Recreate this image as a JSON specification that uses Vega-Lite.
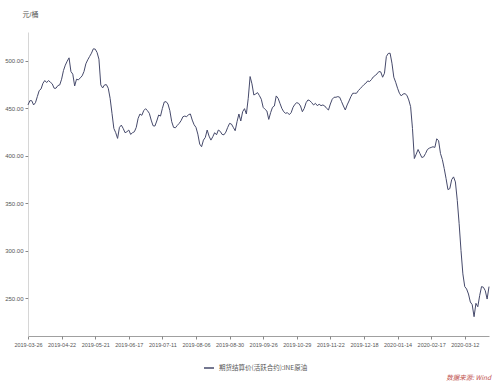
{
  "$schema": "https://vega.github.io/schema/vega-lite/v6.json",
  "width": 461,
  "height": 304,
  "autosize": "none",
  "padding": {"left": 28, "top": 32, "right": 11, "bottom": 50},
  "background": "white",
  "config": {
    "view": {"stroke": null},
    "font": "Liberation Sans, 'Noto Sans CJK SC', sans-serif"
  },
  "title": {
    "text": "数据来源: Wind",
    "orient": "bottom",
    "anchor": "end",
    "fontSize": 6.5,
    "fontStyle": "italic",
    "fontWeight": "normal",
    "color": "#c0504d",
    "offset": 3,
    "font": "'Noto Sans CJK SC', sans-serif"
  },
  "data": {
    "values": [
      {"date":"2019-03-26","price":453.2},{"date":"2019-03-27","price":457.7},{"date":"2019-03-28","price":457.7},{"date":"2019-03-29","price":453.2},
      {"date":"2019-04-01","price":455.6},{"date":"2019-04-02","price":462.0},{"date":"2019-04-03","price":468.3},{"date":"2019-04-04","price":470.1},
      {"date":"2019-04-08","price":476.0},{"date":"2019-04-09","price":478.9},{"date":"2019-04-10","price":476.8},{"date":"2019-04-11","price":478.9},
      {"date":"2019-04-12","price":477.1},{"date":"2019-04-15","price":475.4},{"date":"2019-04-16","price":470.8},{"date":"2019-04-17","price":470.8},
      {"date":"2019-04-18","price":473.6},{"date":"2019-04-19","price":474.3},{"date":"2019-04-22","price":480.3},{"date":"2019-04-23","price":489.4},
      {"date":"2019-04-24","price":495.1},{"date":"2019-04-25","price":499.3},{"date":"2019-04-26","price":502.8},{"date":"2019-04-29","price":488.4},
      {"date":"2019-04-30","price":485.6},{"date":"2019-05-06","price":473.2},{"date":"2019-05-07","price":480.3},{"date":"2019-05-08","price":479.6},
      {"date":"2019-05-09","price":481.7},{"date":"2019-05-10","price":483.8},{"date":"2019-05-13","price":488.4},{"date":"2019-05-14","price":496.5},
      {"date":"2019-05-15","price":500.7},{"date":"2019-05-16","price":504.2},{"date":"2019-05-17","price":507.7},{"date":"2019-05-20","price":512.3},
      {"date":"2019-05-21","price":512.0},{"date":"2019-05-22","price":508.5},{"date":"2019-05-23","price":501.4},{"date":"2019-05-24","price":474.3},
      {"date":"2019-05-27","price":471.1},{"date":"2019-05-28","price":474.3},{"date":"2019-05-29","price":474.6},{"date":"2019-05-30","price":470.8},
      {"date":"2019-05-31","price":460.2},{"date":"2019-06-03","price":444.4},{"date":"2019-06-04","price":428.5},{"date":"2019-06-05","price":424.0},
      {"date":"2019-06-06","price":418.0},{"date":"2019-06-10","price":429.6},{"date":"2019-06-11","price":432.0},{"date":"2019-06-12","price":428.5},
      {"date":"2019-06-13","price":424.0},{"date":"2019-06-14","price":425.0},{"date":"2019-06-17","price":426.8},{"date":"2019-06-18","price":422.2},
      {"date":"2019-06-19","price":424.0},{"date":"2019-06-20","price":425.0},{"date":"2019-06-21","price":429.6},{"date":"2019-06-24","price":439.1},
      {"date":"2019-06-25","price":443.7},{"date":"2019-06-26","price":442.3},{"date":"2019-06-27","price":447.2},{"date":"2019-06-28","price":449.3},
      {"date":"2019-07-01","price":447.2},{"date":"2019-07-02","price":444.4},{"date":"2019-07-03","price":437.3},{"date":"2019-07-04","price":431.3},
      {"date":"2019-07-05","price":431.0},{"date":"2019-07-08","price":436.3},{"date":"2019-07-09","price":442.6},{"date":"2019-07-10","price":441.5},
      {"date":"2019-07-11","price":449.6},{"date":"2019-07-12","price":456.3},{"date":"2019-07-15","price":456.7},{"date":"2019-07-16","price":454.2},
      {"date":"2019-07-17","price":447.2},{"date":"2019-07-18","price":435.6},{"date":"2019-07-19","price":429.6},{"date":"2019-07-22","price":429.2},
      {"date":"2019-07-23","price":431.7},{"date":"2019-07-24","price":433.8},{"date":"2019-07-25","price":436.6},{"date":"2019-07-26","price":440.8},
      {"date":"2019-07-29","price":441.5},{"date":"2019-07-30","price":440.8},{"date":"2019-07-31","price":443.0},{"date":"2019-08-01","price":443.7},
      {"date":"2019-08-02","price":437.3},{"date":"2019-08-05","price":432.4},{"date":"2019-08-06","price":429.6},{"date":"2019-08-07","price":422.5},
      {"date":"2019-08-08","price":412.0},{"date":"2019-08-09","price":409.2},{"date":"2019-08-12","price":416.2},{"date":"2019-08-13","price":419.0},
      {"date":"2019-08-14","price":426.8},{"date":"2019-08-15","price":420.4},{"date":"2019-08-16","price":416.2},{"date":"2019-08-19","price":419.7},
      {"date":"2019-08-20","price":424.0},{"date":"2019-08-21","price":421.8},{"date":"2019-08-22","price":426.8},{"date":"2019-08-23","price":425.4},
      {"date":"2019-08-26","price":422.2},{"date":"2019-08-27","price":421.8},{"date":"2019-08-28","price":424.6},{"date":"2019-08-29","price":429.6},
      {"date":"2019-08-30","price":433.8},{"date":"2019-09-02","price":433.1},{"date":"2019-09-03","price":429.6},{"date":"2019-09-04","price":426.1},
      {"date":"2019-09-05","price":435.6},{"date":"2019-09-06","price":443.7},{"date":"2019-09-09","price":436.3},{"date":"2019-09-10","price":446.1},
      {"date":"2019-09-11","price":449.3},{"date":"2019-09-12","price":443.7},{"date":"2019-09-16","price":460.2},{"date":"2019-09-17","price":483.1},
      {"date":"2019-09-18","price":475.4},{"date":"2019-09-19","price":463.7},{"date":"2019-09-20","price":464.8},{"date":"2019-09-23","price":466.2},
      {"date":"2019-09-24","price":463.0},{"date":"2019-09-25","price":459.2},{"date":"2019-09-26","price":450.7},{"date":"2019-09-27","price":448.6},
      {"date":"2019-09-30","price":446.8},{"date":"2019-10-08","price":438.0},{"date":"2019-10-09","price":445.1},{"date":"2019-10-10","price":450.7},
      {"date":"2019-10-11","price":452.1},{"date":"2019-10-14","price":462.7},{"date":"2019-10-15","price":460.2},{"date":"2019-10-16","price":454.9},
      {"date":"2019-10-17","price":449.6},{"date":"2019-10-18","price":446.1},{"date":"2019-10-21","price":444.4},{"date":"2019-10-22","price":445.1},
      {"date":"2019-10-23","price":443.0},{"date":"2019-10-24","price":445.1},{"date":"2019-10-25","price":450.7},{"date":"2019-10-28","price":453.9},
      {"date":"2019-10-29","price":455.6},{"date":"2019-10-30","price":454.9},{"date":"2019-10-31","price":452.1},{"date":"2019-11-01","price":446.1},
      {"date":"2019-11-04","price":449.6},{"date":"2019-11-05","price":455.6},{"date":"2019-11-06","price":458.5},{"date":"2019-11-07","price":457.7},
      {"date":"2019-11-08","price":455.6},{"date":"2019-11-11","price":453.2},{"date":"2019-11-12","price":454.9},{"date":"2019-11-13","price":452.5},
      {"date":"2019-11-14","price":453.9},{"date":"2019-11-15","price":452.5},{"date":"2019-11-18","price":453.2},{"date":"2019-11-19","price":452.1},
      {"date":"2019-11-20","price":449.6},{"date":"2019-11-21","price":447.9},{"date":"2019-11-22","price":454.2},{"date":"2019-11-25","price":459.2},
      {"date":"2019-11-26","price":461.3},{"date":"2019-11-27","price":461.3},{"date":"2019-11-28","price":462.0},{"date":"2019-11-29","price":461.3},
      {"date":"2019-12-02","price":456.7},{"date":"2019-12-03","price":452.1},{"date":"2019-12-04","price":447.9},{"date":"2019-12-05","price":453.2},
      {"date":"2019-12-06","price":457.4},{"date":"2019-12-09","price":462.0},{"date":"2019-12-10","price":465.5},{"date":"2019-12-11","price":465.5},
      {"date":"2019-12-12","price":465.5},{"date":"2019-12-13","price":468.3},{"date":"2019-12-16","price":470.4},{"date":"2019-12-17","price":472.5},
      {"date":"2019-12-18","price":474.6},{"date":"2019-12-19","price":476.1},{"date":"2019-12-20","price":478.5},{"date":"2019-12-23","price":477.8},
      {"date":"2019-12-24","price":479.9},{"date":"2019-12-25","price":482.7},{"date":"2019-12-26","price":484.2},{"date":"2019-12-27","price":485.9},
      {"date":"2019-12-30","price":488.4},{"date":"2019-12-31","price":488.0},{"date":"2020-01-02","price":482.4},{"date":"2020-01-03","price":486.6},
      {"date":"2020-01-06","price":504.2},{"date":"2020-01-07","price":507.4},{"date":"2020-01-08","price":507.7},{"date":"2020-01-09","price":497.2},
      {"date":"2020-01-10","price":482.4},{"date":"2020-01-13","price":477.1},{"date":"2020-01-14","price":470.8},{"date":"2020-01-15","price":465.5},
      {"date":"2020-01-16","price":462.7},{"date":"2020-01-17","price":464.8},{"date":"2020-01-20","price":465.1},{"date":"2020-01-21","price":463.4},
      {"date":"2020-01-22","price":458.5},{"date":"2020-01-23","price":451.4},{"date":"2020-02-03","price":428.5},{"date":"2020-02-04","price":396.8},
      {"date":"2020-02-05","price":401.4},{"date":"2020-02-06","price":406.3},{"date":"2020-02-07","price":402.1},{"date":"2020-02-10","price":397.9},
      {"date":"2020-02-11","price":398.6},{"date":"2020-02-12","price":402.1},{"date":"2020-02-13","price":406.3},{"date":"2020-02-14","price":407.7},
      {"date":"2020-02-17","price":408.5},{"date":"2020-02-18","price":409.2},{"date":"2020-02-19","price":408.5},{"date":"2020-02-20","price":417.6},
      {"date":"2020-02-21","price":415.5},{"date":"2020-02-24","price":402.1},{"date":"2020-02-25","price":395.8},{"date":"2020-02-26","price":386.3},
      {"date":"2020-02-27","price":375.7},{"date":"2020-02-28","price":364.1},{"date":"2020-03-02","price":365.1},{"date":"2020-03-03","price":374.6},
      {"date":"2020-03-04","price":377.5},{"date":"2020-03-05","price":372.2},{"date":"2020-03-06","price":352.8},{"date":"2020-03-09","price":328.2},
      {"date":"2020-03-10","price":300.0},{"date":"2020-03-11","price":275.4},{"date":"2020-03-12","price":262.0},{"date":"2020-03-13","price":259.5},
      {"date":"2020-03-16","price":254.2},{"date":"2020-03-17","price":245.8},{"date":"2020-03-18","price":243.0},{"date":"2020-03-19","price":230.3},
      {"date":"2020-03-20","price":244.4},{"date":"2020-03-23","price":240.8},{"date":"2020-03-24","price":252.5},{"date":"2020-03-25","price":262.0},
      {"date":"2020-03-26","price":261.3},{"date":"2020-03-27","price":257.7},{"date":"2020-03-30","price":248.9},{"date":"2020-03-31","price":262.0}
    ]
  },
  "mark": {"type": "line", "strokeWidth": 1, "interpolate": "linear"},
  "encoding": {
    "x": {
      "field": "date",
      "type": "ordinal",
      "scale": {"type": "point", "padding": 0},
      "axis": {
        "title": null,
        "values": ["2019-03-26","2019-04-22","2019-05-21","2019-06-17","2019-07-11","2019-08-06","2019-08-30","2019-09-26","2019-10-29","2019-11-22","2019-12-18","2020-01-14","2020-02-17","2020-03-12"],
        "labelAngle": 0,
        "labelFontSize": 5.5,
        "labelColor": "#555555",
        "labelOverlap": false,
        "labelPadding": 3,
        "domainColor": "#888888",
        "domainWidth": 0.8,
        "tickColor": "#888888",
        "tickSize": 3,
        "grid": false
      }
    },
    "y": {
      "field": "price",
      "type": "quantitative",
      "scale": {"domain": [210, 530], "nice": false, "zero": false},
      "axis": {
        "title": "元/桶",
        "titleAngle": 0,
        "titleAlign": "left",
        "titleBaseline": "middle",
        "titleX": -6,
        "titleY": -18,
        "titleFontSize": 7,
        "titleFontWeight": "normal",
        "titleColor": "#555555",
        "values": [250, 300, 350, 400, 450, 500],
        "format": ".2f",
        "labelFontSize": 6,
        "labelColor": "#555555",
        "labelPadding": 2,
        "domainColor": "#cccccc",
        "domainWidth": 0.8,
        "tickColor": "#888888",
        "tickSize": 3,
        "grid": false
      }
    },
    "color": {
      "datum": "期货结算价(活跃合约):INE原油",
      "scale": {"range": ["#464a6b"]},
      "legend": {
        "title": null,
        "orient": "none",
        "legendX": 175,
        "legendY": 330,
        "symbolType": "stroke",
        "symbolStrokeWidth": 1.5,
        "symbolSize": 100,
        "labelFontSize": 6.5,
        "labelColor": "#555555",
        "labelFont": "'Noto Sans CJK SC', sans-serif"
      }
    }
  }
}
